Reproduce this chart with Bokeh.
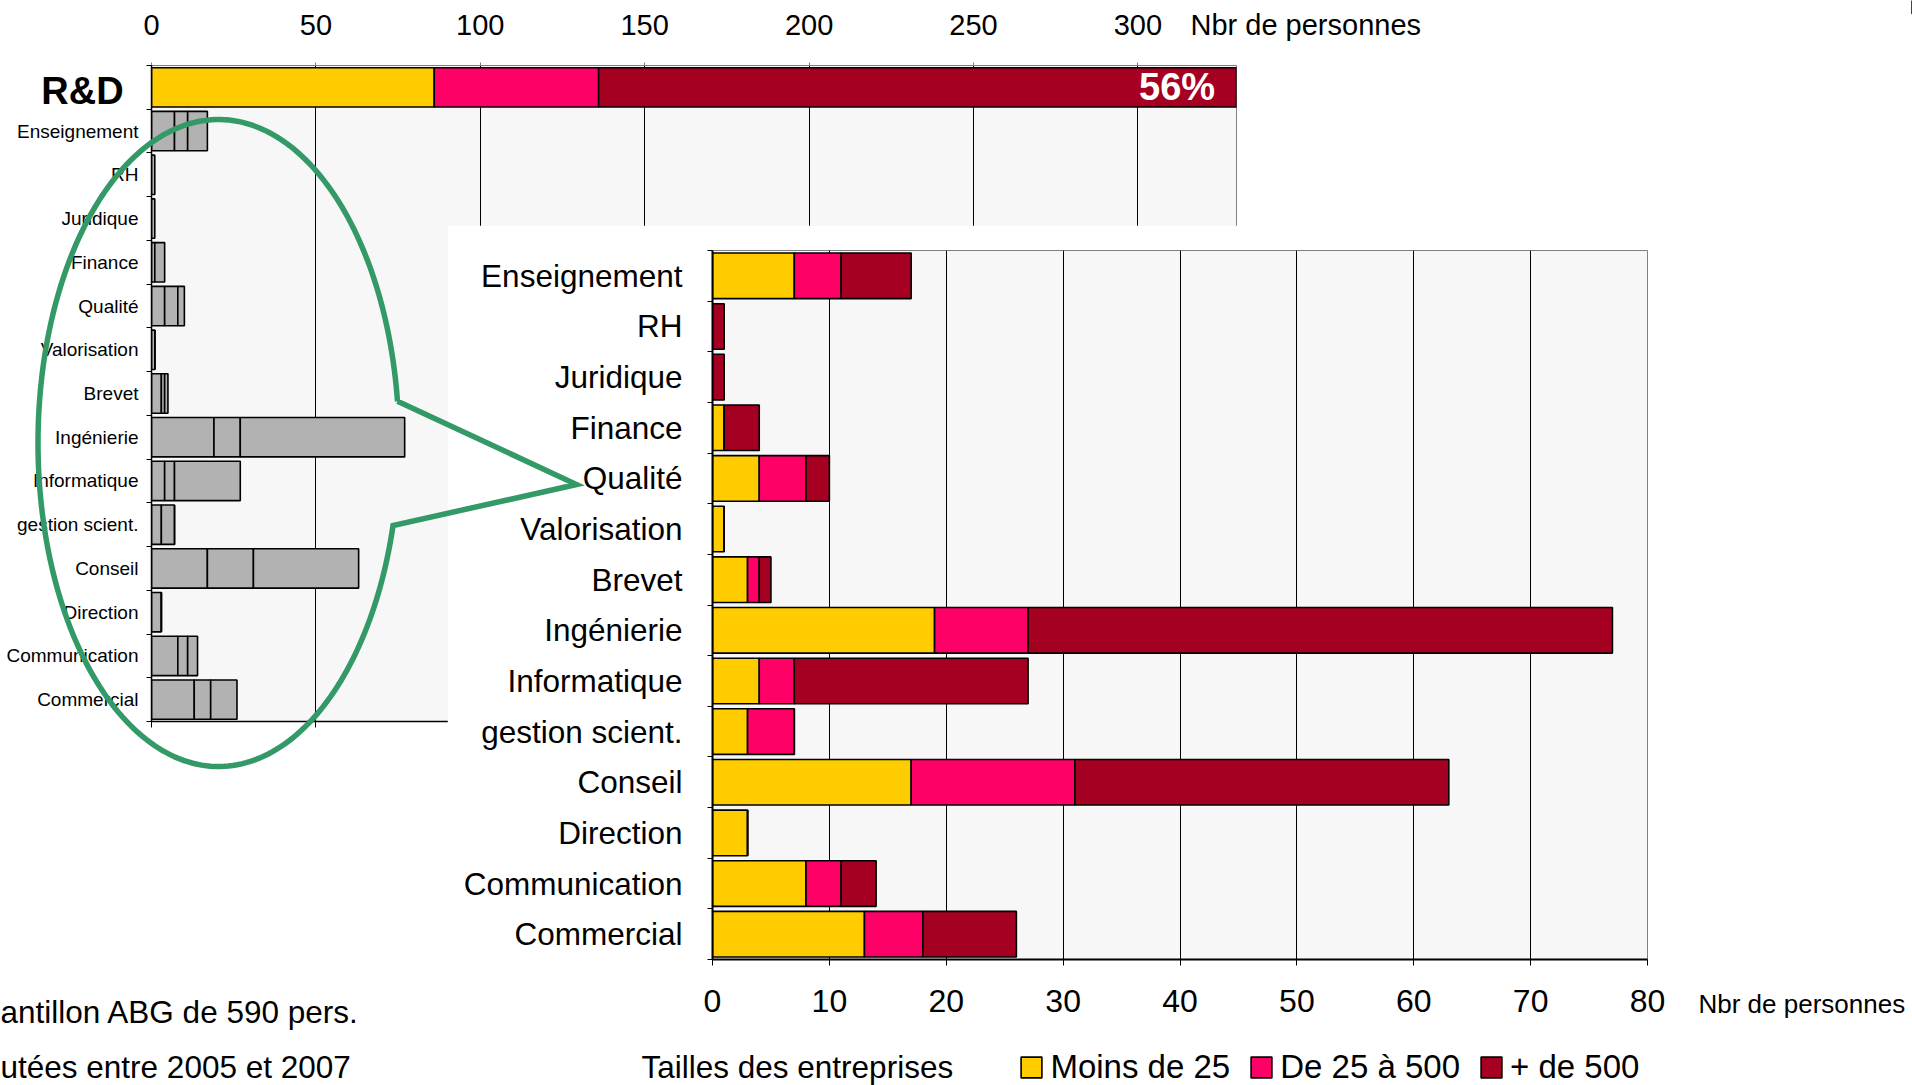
import numpy as np
from jinja2 import Template
from bokeh.plotting import figure
from bokeh.models import (Range1d, LinearAxis, FixedTicker, Label, Legend,
                          LegendItem, ColumnDataSource)
from bokeh.embed import file_html
from bokeh.resources import INLINE

# ---------------- data ----------------
categories = ["Enseignement", "RH", "Juridique", "Finance", "Qualité",
              "Valorisation", "Brevet", "Ingénierie", "Informatique",
              "gestion scient.", "Conseil", "Direction", "Communication",
              "Commercial"]
moins_25    = [7, 0, 0, 1, 4, 1, 3, 19, 4, 3, 17, 3, 8, 13]
de_25_a_500 = [4, 0, 0, 0, 4, 0, 1, 8, 3, 4, 14, 0, 3, 5]
plus_500    = [6, 1, 1, 3, 2, 0, 1, 50, 20, 0, 32, 0, 3, 8]
rd_label = "R&D"
rd_values = [86, 50, 194]          # Moins de 25, De 25 à 500, + de 500
sample_size = 590
series_keys = ["moins_25", "de_25_a_500", "plus_500"]
series_names = ["Moins de 25", "De 25 à 500", "+ de 500"]
top_ticks = [0, 50, 100, 150, 200, 250, 300]
inset_ticks = [0, 10, 20, 30, 40, 50, 60, 70, 80]
axis_title = "Nbr de personnes"
legend_title = "Tailles des entreprises"
note_lines = ["antillon ABG de 590 pers.", "utées entre 2005 et 2007"]

# ---------------- styles ----------------
FONT = "Liberation Sans"
COLORS = ["#FFCC00", "#FF0066", "#A50021"]
GREY = "#B2B2B2"
PANEL = "#F7F7F7"
GREEN = "#339966"
W, H = 1912, 1085

n = len(categories)
rd_total = sum(rd_values)

# ================= top (overview) chart =================
TL, TR, TT, TB = 151, 1236, 65, 721          # frame in page pixels
p = figure(width=W, height=H, x_range=Range1d(0, rd_total),
           y_range=Range1d(-0.5, n + 0.5), x_axis_location="above",
           output_backend="svg", toolbar_location=None, name="top",
           min_border_left=TL, min_border_right=W - TR,
           min_border_top=TT, min_border_bottom=H - TB,
           background_fill_color=PANEL, border_fill_color=None,
           outline_line_color="#808080", outline_line_width=1)

rows = [rd_values] + [list(v) for v in zip(moins_25, de_25_a_500, plus_500)]
row_y = list(range(n, -1, -1))
ys, lefts, rights, cols = [], [], [], []
for i, (yy, vals) in enumerate(zip(row_y, rows)):
    cum = np.concatenate([[0], np.cumsum(vals)])
    for k in range(3):
        ys.append(yy)
        lefts.append(cum[k])
        rights.append(cum[k + 1])
        cols.append(COLORS[k] if i == 0 else GREY)
top_src = ColumnDataSource(dict(y=ys, left=lefts, right=rights, color=cols))
p.hbar(y="y", left="left", right="right", height=0.9, fill_color="color",
       line_color="black", line_width=1.6, source=top_src)

xa = p.xaxis[0]
xa.ticker = FixedTicker(ticks=top_ticks)
xa.major_label_text_font = FONT
xa.major_label_text_font_size = "29px"
xa.major_label_text_color = "black"
xa.axis_line_color = "#808080"
xa.major_tick_line_color = "#808080"
xa.major_tick_in = 0
xa.major_tick_out = 3
xa.minor_tick_out = 0
xa.minor_tick_in = 0
xa.major_label_standoff = 28

bx = LinearAxis(ticker=FixedTicker(ticks=top_ticks), major_label_text_color=None,
                axis_line_color="black", axis_line_width=1.5,
                major_tick_line_color="black", major_tick_in=0, major_tick_out=6,
                minor_tick_in=0, minor_tick_out=0)
p.add_layout(bx, "below")

ya = p.yaxis[0]
ya.ticker = FixedTicker(ticks=row_y, minor_ticks=[k - 0.5 for k in range(n + 2)])
ya.major_label_overrides = {yy: (lab if lab != rd_label else "")
                            for yy, lab in zip(row_y, [rd_label] + categories)}
ya.major_label_text_font = FONT
ya.major_label_text_font_size = "19px"
ya.major_label_text_color = "black"
ya.axis_line_color = "black"
ya.axis_line_width = 1.5
ya.major_tick_in = 0
ya.major_tick_out = 0
ya.minor_tick_in = 0
ya.minor_tick_out = 5
ya.minor_tick_line_color = "black"
ya.major_label_standoff = 8

p.xgrid.ticker = FixedTicker(ticks=top_ticks)
p.xgrid.grid_line_color = "black"
p.xgrid.grid_line_width = 1
p.ygrid.grid_line_color = None

p.add_layout(Label(x=rd_total - 6.5, y=n, text=f"{round(100 * rd_total / sample_size)}%",
                   text_font=FONT, text_font_size="38px", text_font_style="bold",
                   text_align="right", text_baseline="middle", text_color="white"))

# ================= inset (zoom) chart =================
IX, IY = 447, 225                              # canvas origin in page pixels
IW, IH = W - IX, H - IY
FL, FR, FT, FB = 712, 1647, 250, 959           # frame in page pixels
q = figure(width=IW, height=IH, x_range=Range1d(0, inset_ticks[-1]),
           y_range=Range1d(-0.5, n - 0.5), name="inset",
           output_backend="svg", toolbar_location=None,
           min_border_left=FL - IX, min_border_right=W - FR,
           min_border_top=FT - IY, min_border_bottom=H - FB,
           background_fill_color=PANEL, border_fill_color="white",
           outline_line_color="#808080", outline_line_width=1)

inset_y = [n - 1 - i for i in range(n)]
inset_src = ColumnDataSource(dict(y=inset_y, cat=categories, moins_25=moins_25,
                                  de_25_a_500=de_25_a_500, plus_500=plus_500))
q.hbar_stack(series_keys, y="y", height=0.9, fill_color=COLORS,
             line_color="black", line_width=1.6, source=inset_src)

qx = q.xaxis[0]
qx.ticker = FixedTicker(ticks=inset_ticks)
qx.major_label_text_font = FONT
qx.major_label_text_font_size = "32px"
qx.major_label_text_color = "black"
qx.axis_line_color = "black"
qx.axis_line_width = 2
qx.major_tick_line_color = "black"
qx.major_tick_in = 0
qx.major_tick_out = 6
qx.minor_tick_in = 0
qx.minor_tick_out = 0
qx.major_label_standoff = 24

qy = q.yaxis[0]
qy.ticker = FixedTicker(ticks=inset_y, minor_ticks=[k - 0.5 for k in range(n + 1)])
qy.major_label_overrides = {yy: lab for yy, lab in zip(inset_y, categories)}
qy.major_label_text_font = FONT
qy.major_label_text_font_size = "31.5px"
qy.major_label_text_color = "black"
qy.axis_line_color = "black"
qy.axis_line_width = 2
qy.major_tick_in = 0
qy.major_tick_out = 0
qy.minor_tick_in = 0
qy.minor_tick_out = 5
qy.minor_tick_line_color = "black"
qy.major_label_standoff = 25

q.xgrid.ticker = FixedTicker(ticks=inset_ticks)
q.xgrid.grid_line_color = "black"
q.xgrid.grid_line_width = 1
q.ygrid.grid_line_color = None

# ================= overlay: callout, free texts, legend (page pixels) =================
o = figure(width=W, height=H, x_range=Range1d(0, W), y_range=Range1d(H, 0),
           x_axis_type=None, y_axis_type=None, output_backend="svg",
           toolbar_location=None, min_border=0, name="overlay",
           background_fill_color=None, border_fill_color=None,
           outline_line_color=None)
o.grid.visible = False

cx, cy, rx, ry = 218, 442.5, 180.5, 323.5
up_y, low_y, tip = 400.7, 525, (576, 484)
t_up = np.arcsin((up_y - cy) / ry)
t_low = np.arcsin((low_y - cy) / ry) - 2 * np.pi
t = np.linspace(t_up, t_low, 240)
xs = list(cx + rx * np.cos(t)) + [tip[0], cx + rx * np.cos(t_up)]
ys_ = list(cy + ry * np.sin(t)) + [tip[1], cy + ry * np.sin(t_up)]
o.line(xs, ys_, line_color=GREEN, line_width=5.5, line_join="miter")

def txt(x, y, s, size, align="left", bold=False, color="black"):
    o.add_layout(Label(x=x, y=y, text=s, text_font=FONT, text_font_size=size,
                       text_font_style="bold" if bold else "normal",
                       text_align=align, text_baseline="middle", text_color=color))

txt(82, 90, rd_label, "38px", align="center", bold=True)
txt(1190, 24, axis_title, "29px")
txt(1698, 1003, axis_title, "26px")
txt(641, 1066, legend_title, "31.5px")
txt(0, 1011, note_lines[0], "31.5px")
txt(0, 1066, note_lines[1], "31.5px")

# Legend: the series are stacked once more in the overlay on a range that lies
# outside the page, so only their legend swatches are visible.
o.extra_x_ranges = {"offpage": Range1d(-10 * inset_ticks[-1], -9 * inset_ticks[-1])}
swatches = o.hbar_stack(series_keys, y="y", height=0.9, fill_color=COLORS,
                        line_color="black", line_width=1.6, source=inset_src,
                        x_range_name="offpage")
legend = Legend(items=[LegendItem(label=nm, renderers=[r])
                       for nm, r in zip(series_names, swatches)],
                orientation="horizontal", location=(1018.4, -1),
                glyph_width=26, glyph_height=26, label_standoff=6, spacing=18,
                padding=0, margin=0, border_line_color=None,
                background_fill_alpha=0, label_text_font=FONT,
                label_text_font_size="33px", label_text_color="black")
o.add_layout(legend)

# ================= page: three absolutely positioned roots =================
positions = {"top": (0, 0), "inset": (IX, IY), "overlay": (0, 0)}
PAGE = Template("""<!DOCTYPE html>
<html lang="en">
<head>
<meta charset="utf-8">
<title>{{ title }}</title>
<style>html, body { margin: 0; padding: 0; overflow: hidden; background: white; }</style>
{{ bokeh_css if bokeh_css }}
{{ bokeh_js if bokeh_js }}
</head>
<body>
{% for doc in docs %}{% for root in doc.roots %}
<div style="position: absolute; left: {{ pos[root.name][0] }}px; top: {{ pos[root.name][1] }}px;"><div id="{{ root.elementid }}"></div></div>
{% endfor %}{% endfor %}
{{ plot_script }}
</body>
</html>""")

html = file_html([p, q, o], INLINE, title="R&D", template=PAGE,
                 template_variables={"pos": positions})
open("out.html", "w").write(html)
